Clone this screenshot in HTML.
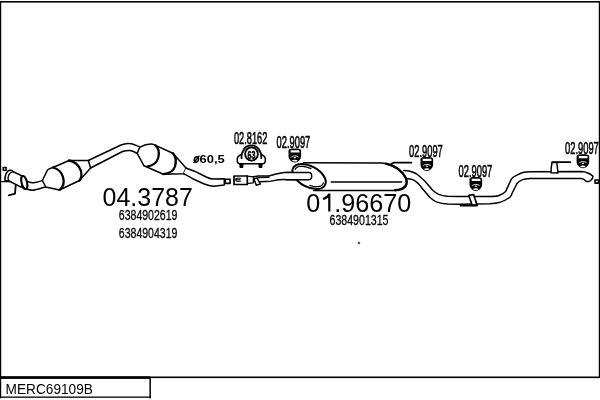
<!DOCTYPE html>
<html><head><meta charset="utf-8">
<style>
html,body{margin:0;padding:0;background:#fff;width:600px;height:400px;overflow:hidden}
svg{display:block;will-change:transform}
text{font-family:"Liberation Sans",sans-serif;fill:#000}
</style></head><body>
<svg width="600" height="400" viewBox="0 0 600 400">
<rect x="0" y="0" width="600" height="400" fill="#fff"/>
<!-- frame -->
<rect x="0" y="1" width="600" height="1.6" fill="#000"/>
<rect x="0" y="1" width="1.2" height="397.3" fill="#000"/>
<rect x="598.8" y="1" width="1.2" height="377" fill="#000"/>
<rect x="0" y="376.5" width="600" height="1.6" fill="#000"/>
<rect x="0" y="376.3" width="150.5" height="2.6" fill="#000"/>
<rect x="149.4" y="377" width="1.5" height="21.3" fill="#000"/>
<rect x="0" y="396.5" width="150.9" height="1.3" fill="#000"/>
<text x="5.6" y="393.8" font-size="14.4" textLength="87.3" lengthAdjust="spacingAndGlyphs">MERC69109B</text>

<g fill="none" stroke="#000" stroke-width="1.5" stroke-linejoin="round" stroke-linecap="round">
<!-- left flange -->
<rect x="3.2" y="167.4" width="2.9" height="2.9" stroke-width="1.5"/>
<path d="M0,181.6 L11.4,181.6" stroke-width="1.4"/>
<path d="M15.7,185.5 L15,193.6 L8.7,195.3" stroke-width="1.8"/>
<path d="M26.5,181.1 C29,182.5 33,182.8 35,182.5 C38,182 40,181.3 42.4,180.5"/>
<path d="M26.5,189 C29,189.8 31,190.2 32.2,190.2 C35,190 38,189 45.8,187"/>
<path d="M5,180.5 C4.5,176 6.5,171 9.5,170.3 C11,170 12.5,170.5 13.3,171.7 L23.5,176.6 L24,188 L20,186.6 L8.7,180.8 Z" fill="#fff" stroke-width="1.6"/>
<path d="M8.7,180.8 C6.8,177 9,172.5 13.3,171.7" stroke-width="1.3"/>
<ellipse cx="24.3" cy="182.5" rx="2.7" ry="6.7" transform="rotate(-14 24.3 182.5)" stroke-width="2" fill="#fff"/>
<path d="M21.6,179 C21.3,182 21.5,185 22.3,187.5" stroke-width="1.1"/>
<!-- cat 1 -->
<path d="M42.4,180.5 L47.5,170 C49,168.6 51,168 53,167.5 L69,160.5 L88.3,160.5 L90.6,168 L79.5,180.5 L59.5,190 L45.8,187 Z" fill="#fff"/>
<path d="M53,167.5 C57,168.5 61.5,172 63,177 C64.5,182 63,187 59.5,190" stroke-width="2.3"/>
<path d="M69,160.5 C74,161 79,165 80.8,170.5 C82,174.5 81.5,178 79.5,180.5" stroke-width="2.3"/>
<!-- pipe 1-2 -->
<path d="M88.3,160.5 L121,145 C124,143.6 127,143.3 129,143.4 C133,143.5 136,145 140,147.2"/>
<path d="M90.6,168 L122.5,151.5 C125,150.7 127.5,150.4 130,150.5 C132.5,150.8 135,152 137.3,153.5"/>
<!-- cat 2 -->
<path d="M140,147.2 C143,145.5 147,144 151,144 C153,144 154.5,144.6 155.5,145.4 L172.9,153.2 L186,168 L183.6,173.7 L163.4,174.2 L144,165.8 L137.3,153.5 C138,151 139,149 140,147.2 Z" fill="#fff"/>
<path d="M155.5,145.4 C158.5,148 159.5,153 158.2,158 C157,162 153,165.5 147.7,166.4" stroke-width="2.3"/>
<path d="M172.9,153.2 C175.5,156 176.5,161 175,166.5 C173.5,171 169,173.5 163.4,174.2" stroke-width="2.3"/>
<!-- pipe to 60,5 -->
<path d="M186,168 L194.5,171.2 L206.2,177 C209,178.3 211.5,179.1 213.7,179.1 L224.3,178.7 L224.3,184.9 L213.7,186.2 C211,186 207,185 203.7,183.7 L192.8,178.7 L183.6,173.7" fill="#fff"/>
<rect x="225.3" y="179.2" width="4.8" height="4.2" stroke-width="1.6"/>
<!-- clamp piece -->
<rect x="234" y="176" width="13.3" height="8.5" stroke-width="1.7" fill="#fff"/>
<path d="M240.7,178.2 L237,178.2 C235.2,178.2 235.2,181.3 237,181.3 L240.7,181.3 M236,179.8 L240,179.8" stroke-width="1.1"/>
<path d="M247.3,176.2 L253.5,176.8 L253.3,182.8 L248.5,183.3" stroke-width="1.3"/>
<path d="M253.8,178.7 L257,177.9 L260.3,184 L256.3,185.2 Z" stroke-width="1.5"/>
<path d="M253.5,176.8 L258,175.9 L269,176 L276,174 L284,172.6 L309,172.5" />
<path d="M258,177.6 L269,177.2" stroke-width="1.4"/>
<path d="M260.1,181.8 L270.6,181.2 C274,180.6 278,179.6 284,179.6 L309,179.7" />
<!-- muffler -->
<ellipse cx="309.1" cy="176.5" rx="18.1" ry="10.4" transform="rotate(28.4 309.1 176.5)" stroke-width="2" fill="#fff"/>
<path d="M295.17,169.28 L295.67,168.46 L296.37,167.75 L297.27,167.18 L298.33,166.74 L299.56,166.45 L300.94,166.31 L302.43,166.32 L304.02,166.49 L305.69,166.80 L307.41,167.26 L309.15,167.85 L310.90,168.58 M323.30,182.93 L322.99,183.80 L322.50,184.58 L321.83,185.25 L320.98,185.80 L319.97,186.22 L318.82,186.52 L317.54,186.67 L316.14,186.69 L314.64,186.57 L313.07,186.32 L311.45,185.93 L309.79,185.42" stroke-width="1.3"/>
<path d="M286,172.5 L309,172.5 C312.6,172.5 312.6,179.7 309,179.7 L286,179.7" fill="#fff"/>
<path d="M303.6,162.8 L382,163.1 C386,163.5 390,164.5 393.5,166.2 C397.5,168.2 401,171 403.5,174 C406,177.5 407.2,181 406.5,184 C405.5,187.5 401,190 394,190.4 L313.7,190.4"/>
<path d="M386,163.7 C390,164.7 394,166.3 397.5,168.5 C401,171 404,174.5 405.8,178 C407,181 406.8,184 405.5,186 C403.5,188.7 400,190.1 395,190.3" stroke-width="2.4"/>
<path d="M331.3,182 L401.5,182"/>
<path d="M390.5,164.8 C391.5,163.3 392.5,162.6 394,162.6 L411.5,162.6" stroke-width="1.8"/>
<!-- rear pipe -->
<path d="M403.75,170.6 C406,170.8 408,171 410,171.25 C412.5,172 414.5,172.6 416.25,173.75 C419,175.8 422,178.5 425,181.25 L432.5,190 C434.5,192 436.5,193.5 438.75,194.4 C441.5,195.6 444.5,196.1 447.5,196.25 L460,196.5 L490,196.5 C494,196.4 497,196.2 499,195.5 C502,194.5 504.5,193 505.7,191.4 L511.3,179.2 C512.8,177 514.8,175.8 517,175.1 C519.5,173.7 521.5,172.7 523.7,172.3 C526,171.9 528,171.7 530,171.7 L581.3,171.6 C583.5,171.7 585.5,172.1 587.2,172.75 C589.5,173.6 591.5,174.8 593,176.3 C592.8,178.5 590.8,180.8 588.5,181.6 L586.5,181.6 C585,180 583,178.8 581.3,178.6 L530,178.5 C527,178.7 524.5,179 522.6,179.6 C520,180.5 518.2,182 517,183.5 L512,193.5 C511.3,195.5 510.8,196.6 510.2,197 C507,199.5 503,201.5 499,202.6 C496,203.3 493,203.6 490,203.8 L460,204.3 L447.5,204.1 C443,203.8 439.5,203 436.25,201.9 C434,200.9 432,199.2 430,197.5 L422.5,188.75 C420.5,186 418.5,183.3 416.25,181.9 C414.5,180 412.5,178.8 407.5,178.75"/>
<path d="M468.75,195.3 L473.6,194.6 L477,204.9 L472.2,205.4 Z" fill="#fff" stroke-width="1.7"/>
<path d="M460.5,205.6 L477,205.6" stroke-width="2"/>
<path d="M552,162.5 L556.8,162.5 L558,173 L551,172.8 C551,170 551.3,166 552,162.5 Z" fill="#fff"/>
<path d="M552.2,162.2 L570.3,162.2" stroke-width="1.7"/>
<rect x="595" y="180" width="3.5" height="3.1" stroke-width="1.6"/>
</g>

<!-- clamp 02.8162 -->
<g fill="none" stroke="#000" stroke-width="1.5">
<path d="M241.5,154.5 C238.8,155.3 237.2,157.3 237.2,159.7 C237.2,162.2 238.3,163.8 240.3,163.8 L262.3,163.8 C264.3,163.8 265.4,162.2 265.4,159.7 C265.4,157.3 263.8,155.3 261.2,154.5" fill="#fff"/>
<rect x="239.4" y="163.5" width="4" height="4.4" fill="#000" stroke="none" rx="0.8"/>
<rect x="258.5" y="163.5" width="4" height="4.4" fill="#000" stroke="none" rx="0.8"/>
<path d="M241.6,159 C240.8,151 245,145.3 251.4,145.3 C257.8,145.3 262,151 261.2,159" stroke-width="1.7"/>
<path d="M243.5,153 C244.5,149 247.5,147 251.4,147 C255.3,147 258.3,149 259.3,153" stroke-width="0.6"/>
<ellipse cx="251.5" cy="154" rx="6.4" ry="6.7" stroke-width="1.8" fill="#fff"/>
</g>
<text transform="translate(247.5 158.5) scale(0.6 1)" x="0" y="0" font-size="11.8" font-weight="bold" stroke="#000" stroke-width="0.5">63</text>

<!-- hanger icons -->

<g transform="translate(288.5 148.5)">
<path d="M0,2.3 C0,0.5 2,0 6.3,0 C10.6,0 12.6,0.5 12.6,2.3 L12.6,7.5 C12.6,11 9.5,14 6.3,14 C3.1,14 0,11 0,7.5 Z" fill="#000"/>
<path d="M2.2,1.8 L10.2,1.8 C10.8,1.9 11,2.6 11,3.6 L11,4.1 L2.2,4.1 Z" fill="#fff"/>
<path d="M2.4,9 C3.6,6.9 9,6.9 10.2,9" fill="none" stroke="#fff" stroke-width="0.9"/><ellipse cx="6.3" cy="9.2" rx="1.2" ry="0.6" fill="#fff"/>
<ellipse cx="6.3" cy="12.2" rx="2.6" ry="0.9" fill="#fff"/>
</g>
<g transform="translate(420.5 157)">
<path d="M0,2.3 C0,0.5 2,0 6.3,0 C10.6,0 12.6,0.5 12.6,2.3 L12.6,7.5 C12.6,11 9.5,14 6.3,14 C3.1,14 0,11 0,7.5 Z" fill="#000"/>
<path d="M2.2,1.8 L10.2,1.8 C10.8,1.9 11,2.6 11,3.6 L11,4.1 L2.2,4.1 Z" fill="#fff"/>
<path d="M2.4,9 C3.6,6.9 9,6.9 10.2,9" fill="none" stroke="#fff" stroke-width="0.9"/><ellipse cx="6.3" cy="9.2" rx="1.2" ry="0.6" fill="#fff"/>
<ellipse cx="6.3" cy="12.2" rx="2.6" ry="0.9" fill="#fff"/>
</g>
<g transform="translate(469.5 177)">
<path d="M0,2.3 C0,0.5 2,0 6.3,0 C10.6,0 12.6,0.5 12.6,2.3 L12.6,7.5 C12.6,11 9.5,14 6.3,14 C3.1,14 0,11 0,7.5 Z" fill="#000"/>
<path d="M2.2,1.8 L10.2,1.8 C10.8,1.9 11,2.6 11,3.6 L11,4.1 L2.2,4.1 Z" fill="#fff"/>
<path d="M2.4,9 C3.6,6.9 9,6.9 10.2,9" fill="none" stroke="#fff" stroke-width="0.9"/><ellipse cx="6.3" cy="9.2" rx="1.2" ry="0.6" fill="#fff"/>
<ellipse cx="6.3" cy="12.2" rx="2.6" ry="0.9" fill="#fff"/>
</g>
<g transform="translate(576.6 154.2)">
<path d="M0,2.3 C0,0.5 2,0 6.3,0 C10.6,0 12.6,0.5 12.6,2.3 L12.6,7.5 C12.6,11 9.5,14 6.3,14 C3.1,14 0,11 0,7.5 Z" fill="#000"/>
<path d="M2.2,1.8 L10.2,1.8 C10.8,1.9 11,2.6 11,3.6 L11,4.1 L2.2,4.1 Z" fill="#fff"/>
<path d="M2.4,9 C3.6,6.9 9,6.9 10.2,9" fill="none" stroke="#fff" stroke-width="0.9"/><ellipse cx="6.3" cy="9.2" rx="1.2" ry="0.6" fill="#fff"/>
<ellipse cx="6.3" cy="12.2" rx="2.6" ry="0.9" fill="#fff"/>
</g>

<!-- labels -->
<g style="will-change:transform">
<text x="102.6" y="206.3" font-size="26" textLength="90.2" lengthAdjust="spacingAndGlyphs">04.3787</text>
<text x="118.8" y="220.2" font-size="15.2" stroke="#000" stroke-width="0.3" textLength="58.6" lengthAdjust="spacingAndGlyphs">6384902619</text>
<text x="118.8" y="237.5" font-size="15.2" stroke="#000" stroke-width="0.3" textLength="58.6" lengthAdjust="spacingAndGlyphs">6384904319</text>
<text x="306.3" y="211.6" font-size="25.5" textLength="105" lengthAdjust="spacingAndGlyphs">01.96670</text>
<rect x="320.6" y="192.5" width="13" height="20" fill="#fff"/>
<path d="M329.3,193.6 L329.3,211.4 M329.3,194.2 C328,196.8 325.8,198.2 323,199" stroke="#000" stroke-width="2.2" fill="none"/>
<text x="329.5" y="225.4" font-size="15.2" stroke="#000" stroke-width="0.3" textLength="59" lengthAdjust="spacingAndGlyphs">6384901315</text>
<text x="234" y="143.75" font-size="16.5" stroke="#000" stroke-width="0.6" textLength="33.3" lengthAdjust="spacingAndGlyphs">02.8162</text>
<text x="276.5" y="147.8" font-size="16.5" stroke="#000" stroke-width="0.6" textLength="33.8" lengthAdjust="spacingAndGlyphs">02.9097</text>
<text x="409" y="156.5" font-size="16.5" stroke="#000" stroke-width="0.6" textLength="33.8" lengthAdjust="spacingAndGlyphs">02.9097</text>
<text x="458.5" y="176.5" font-size="16.5" stroke="#000" stroke-width="0.6" textLength="33.8" lengthAdjust="spacingAndGlyphs">02.9097</text>
<text x="565" y="153.6" font-size="16.5" stroke="#000" stroke-width="0.6" textLength="33.8" lengthAdjust="spacingAndGlyphs">02.9097</text>
<text x="199.6" y="163.4" font-size="11.6" font-weight="bold" textLength="25.2" lengthAdjust="spacingAndGlyphs">60,5</text>
</g>
<g stroke="#000" fill="none" stroke-width="1.2">
<ellipse cx="196.4" cy="159.5" rx="2" ry="2.6" transform="rotate(20 196.4 159.5)" stroke-width="1.6"/>
<path d="M193.6,163.2 L199.4,155.6" stroke-width="1.3"/>
</g>
<rect x="357.8" y="241.8" width="2.3" height="2.2" fill="#555"/>
</svg>
</body></html>
